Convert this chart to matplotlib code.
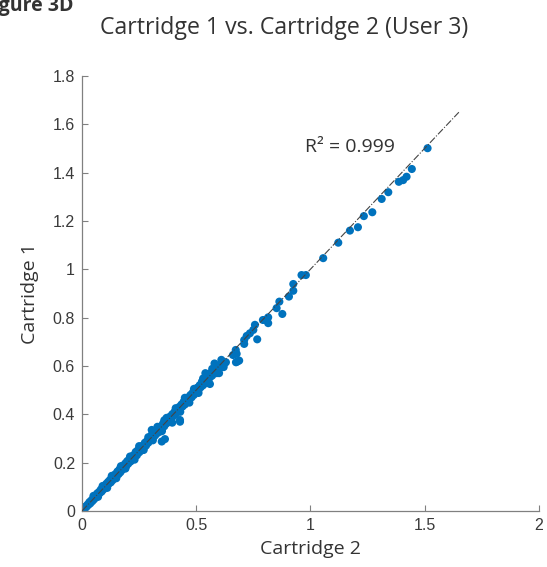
import numpy as np
import matplotlib
matplotlib.use("Agg")
import matplotlib.pyplot as plt

# dense band near the origin (Cartridge 2, Cartridge 1)
low_c2 = [0.003, 0.008, 0.012, 0.015, 0.02, 0.024, 0.028, 0.032, 0.036, 0.04, 0.045, 0.05, 0.053, 0.058,
          0.062, 0.066, 0.07, 0.074, 0.078, 0.082, 0.086, 0.09, 0.094, 0.098, 0.102, 0.106, 0.11, 0.114,
          0.118, 0.122, 0.126, 0.13, 0.134, 0.138, 0.142, 0.146, 0.15, 0.155, 0.16, 0.164, 0.168, 0.172,
          0.176, 0.18, 0.185, 0.19, 0.194, 0.198, 0.202, 0.207, 0.212, 0.216, 0.22, 0.225, 0.23, 0.235,
          0.24, 0.245, 0.25, 0.255, 0.26, 0.265, 0.27, 0.275, 0.28, 0.285, 0.29, 0.295, 0.3, 0.305, 0.31,
          0.315, 0.32, 0.325, 0.33, 0.335, 0.34, 0.345, 0.35, 0.355, 0.36, 0.365, 0.37, 0.375, 0.38, 0.385,
          0.39, 0.395, 0.40, 0.405, 0.41, 0.415, 0.42, 0.425, 0.43, 0.435, 0.44, 0.445, 0.45, 0.455, 0.46,
          0.465, 0.47, 0.475, 0.48, 0.485, 0.49, 0.495, 0.50, 0.505, 0.51, 0.515, 0.52, 0.525, 0.53, 0.535,
          0.54, 0.545, 0.55, 0.555, 0.56, 0.565, 0.57, 0.575, 0.58, 0.585, 0.59, 0.60, 0.605, 0.612, 0.62,
          0.63, 0.305, 0.341, 0.363, 0.349, 0.429, 0.429]
low_c1 = [0.002, 0.010, 0.009, 0.018, 0.017, 0.026, 0.025, 0.036, 0.031, 0.043, 0.040, 0.055, 0.048, 0.062,
          0.057, 0.072, 0.064, 0.078, 0.074, 0.088, 0.080, 0.095, 0.089, 0.104, 0.096, 0.112, 0.104, 0.12,
          0.113, 0.128, 0.118, 0.137, 0.127, 0.146, 0.136, 0.152, 0.143, 0.163, 0.152, 0.172, 0.160, 0.18,
          0.17, 0.188, 0.178, 0.197, 0.186, 0.206, 0.195, 0.214, 0.204, 0.224, 0.212, 0.23, 0.222, 0.244,
          0.23, 0.252, 0.242, 0.262, 0.25, 0.27, 0.262, 0.282, 0.27, 0.29, 0.282, 0.30, 0.292, 0.315, 0.30,
          0.322, 0.312, 0.33, 0.322, 0.34, 0.332, 0.35, 0.342, 0.362, 0.35, 0.37, 0.362, 0.38, 0.372, 0.39,
          0.382, 0.40, 0.392, 0.41, 0.40, 0.42, 0.412, 0.43, 0.422, 0.44, 0.432, 0.452, 0.44, 0.46, 0.45,
          0.47, 0.462, 0.48, 0.47, 0.49, 0.48, 0.50, 0.492, 0.51, 0.50, 0.52, 0.512, 0.535, 0.52, 0.54,
          0.53, 0.55, 0.54, 0.56, 0.552, 0.572, 0.56, 0.58, 0.575, 0.59, 0.582, 0.60, 0.592, 0.61, 0.605,
          0.615, 0.335, 0.328, 0.297, 0.287, 0.376, 0.369]

# points on either edge of the band
edge_c2 = [0.05, 0.07, 0.09, 0.11, 0.13, 0.15, 0.17, 0.19, 0.21, 0.23, 0.25, 0.27, 0.29, 0.31, 0.33,
           0.35, 0.37, 0.39, 0.41, 0.43, 0.45, 0.47, 0.49, 0.51, 0.53, 0.55, 0.57, 0.59, 0.61, 0.62,
           0.395, 0.36, 0.54, 0.56, 0.60, 0.58]
edge_c1 = [0.062, 0.058, 0.103, 0.095, 0.145, 0.135, 0.185, 0.175, 0.225, 0.212, 0.268, 0.252, 0.305,
           0.292, 0.348, 0.33, 0.385, 0.37, 0.425, 0.41, 0.468, 0.448, 0.505, 0.488, 0.548, 0.53, 0.588,
           0.57, 0.625, 0.595, 0.365, 0.375, 0.57, 0.525, 0.57, 0.61]

# sparser points further up
high_c2 = [0.673, 0.677, 0.688, 0.674, 0.680, 0.710, 0.710, 0.721, 0.735, 0.750, 0.757, 0.767, 0.792,
           0.801, 0.815, 0.815, 0.852, 0.864, 0.877, 0.906, 0.925, 0.925, 0.961, 0.980, 1.056, 1.122,
           1.173, 1.208, 1.234, 1.271, 1.312, 1.341, 1.387, 1.406, 1.421, 1.444, 1.513, 0.661, 0.611]
high_c1 = [0.666, 0.650, 0.622, 0.615, 0.618, 0.691, 0.707, 0.724, 0.735, 0.749, 0.770, 0.710, 0.790,
           0.790, 0.801, 0.777, 0.839, 0.866, 0.815, 0.887, 0.911, 0.939, 0.976, 0.976, 1.046, 1.110,
           1.160, 1.174, 1.220, 1.236, 1.291, 1.319, 1.362, 1.369, 1.383, 1.415, 1.501, 0.645, 0.604]

fit_x = [0, 1.65]
fit_y = [0, 1.65]

cart2 = np.array(low_c2 + edge_c2 + high_c2)
cart1 = np.array(low_c1 + edge_c1 + high_c1)

fig = plt.figure(figsize=(5.47, 5.67), dpi=100)
ax = fig.add_axes([0.150, 0.099, 0.835, 0.767])

ax.scatter(cart2, cart1, s=34, color='#0072BD', edgecolors='none', zorder=2)
ax.plot(fit_x, fit_y, linestyle='-.', color='#444444', linewidth=0.8, zorder=3)

ax.set_xlim(0, 2)
ax.set_ylim(0, 1.8)
ax.set_xticks([0, 0.5, 1, 1.5, 2])
ax.set_xticklabels(['0', '0.5', '1', '1.5', '2'])
ax.set_yticks([0, 0.2, 0.4, 0.6, 0.8, 1, 1.2, 1.4, 1.6, 1.8])
ax.set_yticklabels(['0', '0.2', '0.4', '0.6', '0.8', '1', '1.2', '1.4', '1.6', '1.8'])
ax.spines['top'].set_visible(False)
ax.spines['right'].set_visible(False)
for s in ['left', 'bottom']:
    ax.spines[s].set_color('#808080')
    ax.spines[s].set_linewidth(0.9)
ax.tick_params(direction='in', length=4, width=0.8, color='#808080',
               labelsize=11.5, labelcolor='#3a3a3a', pad=5)
for lab in ax.get_xticklabels() + ax.get_yticklabels():
    lab.set_family('Liberation Sans')

ax.set_xlabel('Cartridge 2', fontsize=14, family='Open Sans', color='#333333', labelpad=5)
ax.set_ylabel('Cartridge 1', fontsize=14, family='Open Sans', color='#333333', labelpad=10)

ax.text(0.976, 1.506, 'R² = 0.999', fontsize=14, family='Open Sans', color='#333333',
        va='center', ha='left')

fig.text(0.52, 0.951, 'Cartridge 1 vs. Cartridge 2 (User 3)', fontsize=16.7, family='Open Sans',
         color='#333333', ha='center', va='center')
# the figure tag is cut at the left edge, as in the source image
fig.text(0.1335, 0.989, 'Figure 3D', fontsize=14, family='Open Sans', fontweight='bold',
         color='#333333', ha='right', va='center')

fig.savefig('out.png', dpi=100)
